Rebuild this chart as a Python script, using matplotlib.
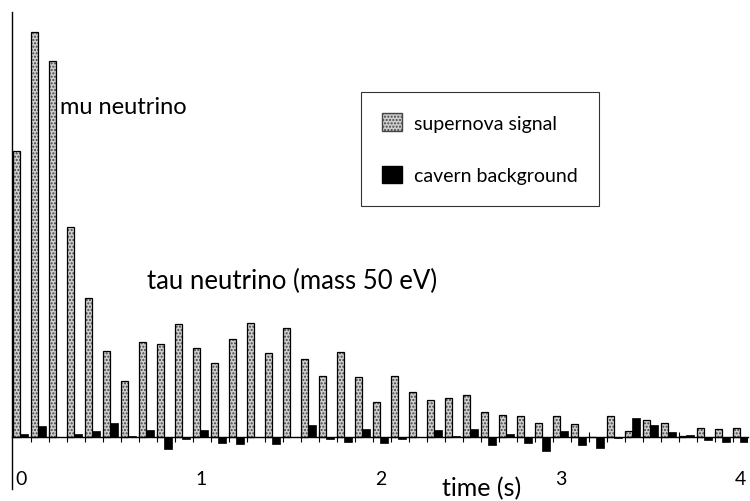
import matplotlib
matplotlib.use("Agg")
import matplotlib.pyplot as plt
from matplotlib.patches import Patch
import numpy as np

plt.rcParams['font.family'] = ['Lato', 'DejaVu Sans']

times = [round(0.1 * i, 1) for i in range(41)]
signal = [286, 405, 376, 210, 139, 86, 56, 95, 93, 113,
          89, 74, 98, 114, 84, 109, 78, 61, 85, 60,
          35, 61, 45, 37, 39, 42, 25, 22, 21, 14,
          21, 13, 0, 21, 6, 17, 14, 1, 9, 8, 9]
background = [3, 11, 0, 3, 6, 14, 1, 7, -12, -2,
              7, -6, -7, 0, -7, 0, 12, -2, -5, 8,
              -6, -2, 0, 7, 1, 8, -8, 3, -6, -14,
              6, -8, -11, -1, 19, 12, 5, 2, -3, -5, -5]
major_labels = ['0', '1', '2', '3', '4']
legend_labels = ['supernova signal', 'cavern background']

W, H = 750, 502
fig = plt.figure(figsize=(W / 100, H / 100), dpi=100)
ax = fig.add_axes([12 / W, (H - 490) / H, 736 / W, 477 / H])

t = np.array(times)
sw, bw = 0.04, 0.045
# stippled grey signal bars
ax.bar(t, signal, width=sw, align='edge', color='#cfcfcf', hatch='.....',
       edgecolor='#444444', linewidth=0, zorder=2)
ax.bar(t, signal, width=sw, align='edge', fill=False, edgecolor='black',
       linewidth=0.9, zorder=3)
# black background bars
ax.bar(t + sw, background, width=bw, align='edge', color='black',
       edgecolor='black', linewidth=0.5, zorder=3)

ax.set_xlim(-0.005, 4.085)
ax.set_ylim(-52, 425)

for s in ['top', 'right']:
    ax.spines[s].set_visible(False)
ax.spines['left'].set_linewidth(1.0)
ax.spines['bottom'].set_position(('data', 0))
ax.spines['bottom'].set_linewidth(1.0)
ax.set_yticks([])

ax.set_xticks(np.arange(5) + 0.045)
ax.set_xticklabels(major_labels, fontsize=14)
ax.tick_params(axis='x', which='major', length=0, pad=24)
ax.set_xticks(t[1:], minor=True)
ax.tick_params(axis='x', which='minor', direction='inout', length=7, width=0.8)

ax.set_xlabel('time (s)', fontsize=18)
ax.xaxis.set_label_coords((482 - 12) / 736, (490 - 489) / 477)
ax.xaxis.label.set_verticalalignment('center')

ax.text(0.26, 330, 'mu neutrino', fontsize=17, ha='left', va='center')
ax.text(0.744, 157, 'tau neutrino (mass 50 eV)', fontsize=18.5, ha='left', va='center')

handles = [Patch(facecolor='#cfcfcf', hatch='.....', edgecolor='#444444'),
           Patch(facecolor='black', edgecolor='black')]
leg = ax.legend(handles, legend_labels, loc='upper left',
                bbox_to_anchor=(361 / W, 1 - 93 / H), bbox_transform=fig.transFigure,
                fontsize=14, frameon=True, fancybox=False, edgecolor='black',
                handlelength=1.0, handleheight=1.0, labelspacing=1.75,
                borderpad=1.1, handletextpad=0.6, borderaxespad=0)
leg.get_frame().set_linewidth(0.8)

fig.savefig('out.png', dpi=100)
